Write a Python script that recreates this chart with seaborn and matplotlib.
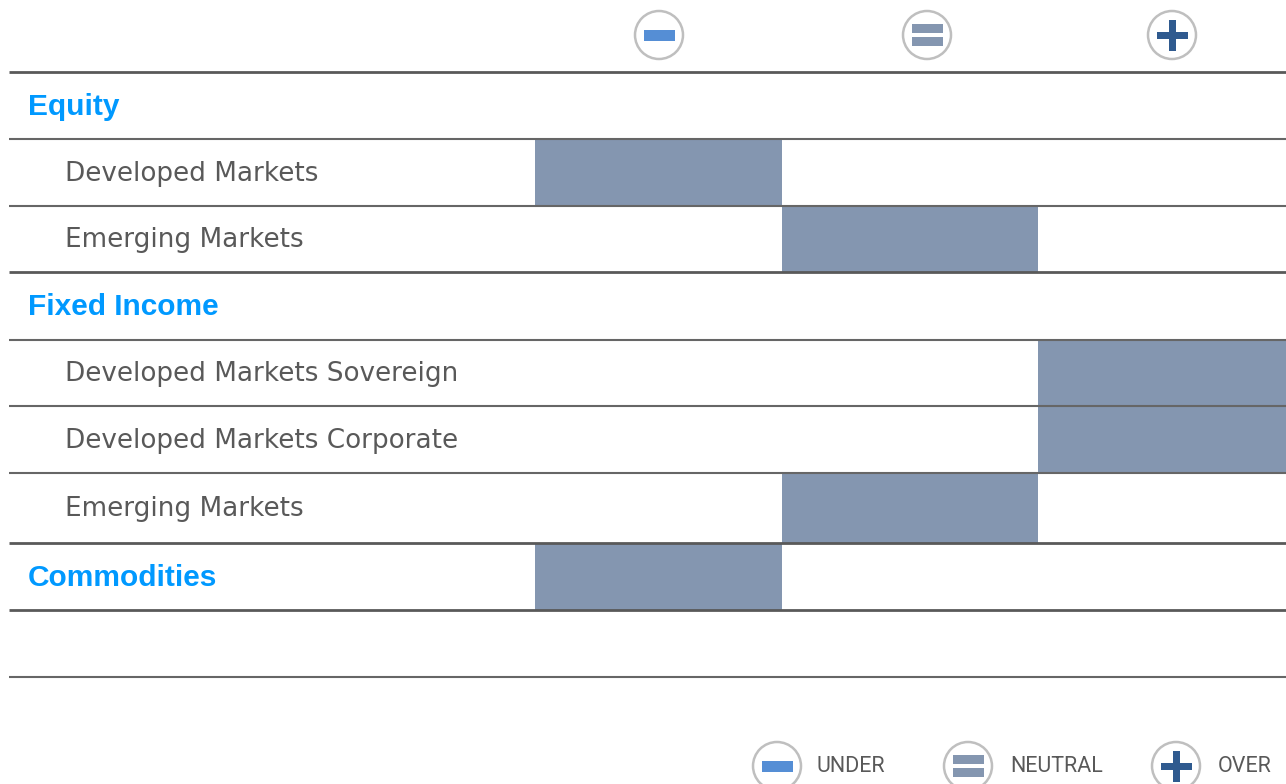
import matplotlib
matplotlib.use("Agg")
import matplotlib.pyplot as plt
from matplotlib.patches import Circle, Rectangle
import numpy as np
import seaborn as sns

# table content
row_labels = ["Equity", "Developed Markets", "Emerging Markets", "Fixed Income",
              "Developed Markets Sovereign", "Developed Markets Corporate",
              "Emerging Markets", "Commodities", ""]
is_group = [True, False, False, True, False, False, False, True, False]
# 0 under, 1 neutral, 2 over, None no view
views = [None, 0, 1, None, 2, 2, 1, 0, None]
legend_labels = ["UNDER", "NEUTRAL", "OVER"]

W, H = 1286, 784
TEXT = "#595959"
BLUE = "#0099FF"
FILL = "#8496B0"
ICONS = ["#558ED5", "#8496B0", "#2F5A8F"]
# layout in pixels
row_edges = [72, 139, 206, 272, 340, 406, 473, 543, 610, 677]
col_edges = [535, 782, 1038, 1286]
thick = [72, 272, 543, 610]

cells = np.full((len(views), 3), np.nan)
for i, v in enumerate(views):
    if v is not None:
        cells[i, v] = 1

sns.set_theme(style="white")
fig = plt.figure(figsize=(W / 100, H / 100), dpi=100, facecolor="white")
ax = fig.add_axes([col_edges[0] / W, 1 - row_edges[-1] / H,
                   (col_edges[-1] - col_edges[0]) / W,
                   (row_edges[-1] - row_edges[0]) / H])
sns.heatmap(cells, ax=ax, cmap=[FILL], cbar=False, xticklabels=False,
            yticklabels=False, linewidths=0)

# cells are not all the same size in the original
col_idx = np.arange(len(col_edges))
row_idx = np.arange(len(row_edges))
ax.set_xscale("function", functions=(lambda v: np.interp(v, col_idx, col_edges),
                                     lambda v: np.interp(v, col_edges, col_idx)))
ax.set_yscale("function", functions=(lambda v: np.interp(v, row_idx, row_edges),
                                     lambda v: np.interp(v, row_edges, row_idx)))
ax.set_xlim(0, 3)
ax.set_ylim(len(views), 0)
ax.xaxis.set_major_locator(plt.NullLocator())
ax.yaxis.set_major_locator(plt.NullLocator())
ax.xaxis.set_minor_locator(plt.NullLocator())
ax.yaxis.set_minor_locator(plt.NullLocator())
for s in ax.spines.values():
    s.set_visible(False)

# overlay in pixel coords for rules, labels and icons
ov = fig.add_axes([0, 0, 1, 1])
ov.set_xlim(0, W)
ov.set_ylim(H, 0)
ov.axis("off")
ov.patch.set_alpha(0)

for y in row_edges:
    ov.plot([9, W], [y, y], color=TEXT if y in thick else "#666666",
            lw=2.0 if y in thick else 1.5, solid_capstyle="butt")

for i, label in enumerate(row_labels):
    yc = (row_edges[i] + row_edges[i + 1]) / 2
    if is_group[i]:
        ov.text(28, yc + 1, label, color=BLUE, fontsize=21.5, fontweight="bold",
                family="Liberation Sans", va="center", ha="left")
    else:
        ov.text(65, yc + 1, label, color=TEXT, fontsize=18.9,
                family="DejaVu Sans", va="center", ha="left")


def icon(cx, cy, kind):
    ov.add_patch(Circle((cx, cy), 24, fc="white", ec="#BFBFBF", lw=1.8))
    c = ICONS[kind]
    if kind == 0:
        ov.add_patch(Rectangle((cx - 15.5, cy - 5), 31, 11, fc=c, ec="none"))
    elif kind == 1:
        ov.add_patch(Rectangle((cx - 15.5, cy - 11), 31, 9, fc=c, ec="none"))
        ov.add_patch(Rectangle((cx - 15.5, cy + 2), 31, 9, fc=c, ec="none"))
    else:
        ov.add_patch(Rectangle((cx - 15.5, cy - 3), 31, 7, fc=c, ec="none"))
        ov.add_patch(Rectangle((cx - 3.5, cy - 15), 7, 31, fc=c, ec="none"))


for k, cx in enumerate([659, 927, 1172]):
    icon(cx, 35, k)
for k, (cx, tx) in enumerate(zip([777, 968, 1176], [817, 1010, 1218])):
    icon(cx, 766, k)
    ov.text(tx, 766, legend_labels[k], color=TEXT, fontsize=15.5,
            family="Roboto", va="center", ha="left")

fig.savefig("out.png", dpi=100)
